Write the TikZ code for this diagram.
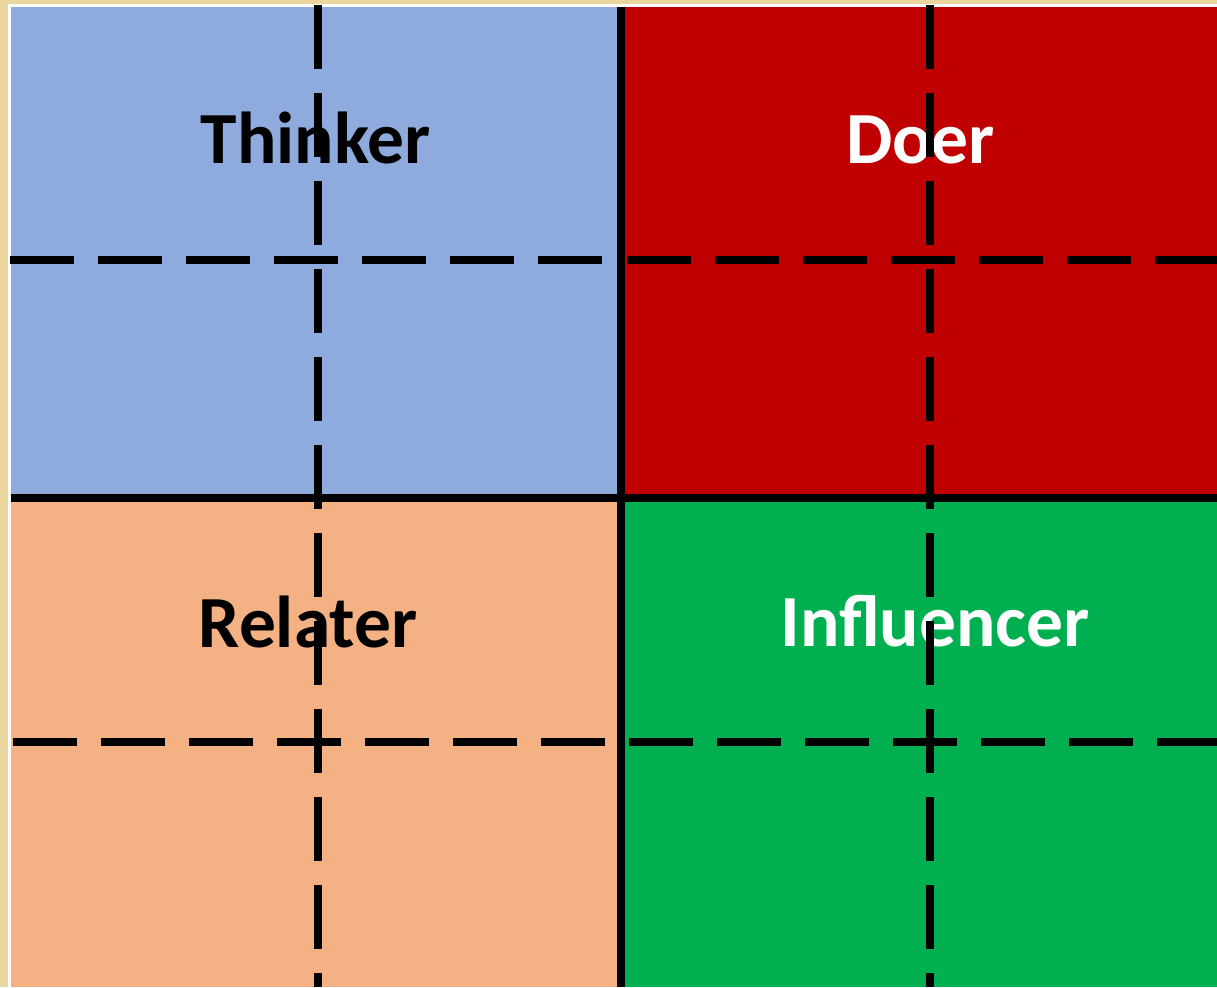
\documentclass[tikz,border=0pt]{standalone}
\usepackage{fontspec}
\setmainfont{Carlito}
\definecolor{parch}{RGB}{236,214,160}
\definecolor{qblue}{RGB}{143,170,220}
\definecolor{qred}{RGB}{192,0,0}
\definecolor{qorange}{RGB}{244,177,131}
\definecolor{qgreen}{RGB}{0,176,80}
\tikzset{
  quad/.style={draw=none},
  solidline/.style={line width=8pt, black},
  dashline/.style={line width=8pt, black, dash pattern=on 64pt off 24pt, line cap=butt},
  lbl/.style={anchor=base, inner sep=0pt, font=\fontsize{73.5}{80}\selectfont\bfseries}
}
\begin{document}
\begin{tikzpicture}[x=1pt,y=-1pt]
\useasboundingbox (0,0) rectangle (1217,987);
\fill[parch] (0,0) rectangle (1217,987);
\fill[white] (8,4) rectangle (1217,987);
% quadrants
\fill[qblue] (11,7) rectangle (621,498);
\fill[qred] (621,7) rectangle (1217,498);
\fill[qorange] (11,498) rectangle (621,987);
\fill[qgreen] (621,498) rectangle (1217,987);
% labels
\node[lbl, text=black] (thinker) at (315.5,164) {Thinker};
\node[lbl, text=white] (doer) at (920.5,164) {Doer};
\node[lbl, text=black] (relater) at (308,647) {Relater};
\node[lbl, text=white] (influencer) at (935,646) {Influencer};
% dashed grid
\coordinate (h1a) at (10,260);  \coordinate (h1b) at (617,260);
\coordinate (h2a) at (627,260); \coordinate (h2b) at (1217,260);
\coordinate (h3a) at (13,742);  \coordinate (h3b) at (617,742);
\coordinate (h4a) at (629,742); \coordinate (h4b) at (1217,742);
\coordinate (v1a) at (318,5);   \coordinate (v1b) at (318,987);
\coordinate (v2a) at (930,5);   \coordinate (v2b) at (930,987);
\draw[dashline] (h1a) -- (h1b);
\draw[dashline] (h2a) -- (h2b);
\draw[dashline] (h3a) -- (h3b);
\draw[dashline] (h4a) -- (h4b);
\draw[dashline] (v1a) -- (v1b);
\draw[dashline] (v2a) -- (v2b);
% solid dividers
\coordinate (ct) at (621,7);  \coordinate (cb) at (621,987);
\coordinate (cl) at (11,498); \coordinate (cr) at (1217,498);
\draw[solidline] (ct) -- (cb);
\draw[solidline] (cl) -- (cr);
\end{tikzpicture}
\end{document}
